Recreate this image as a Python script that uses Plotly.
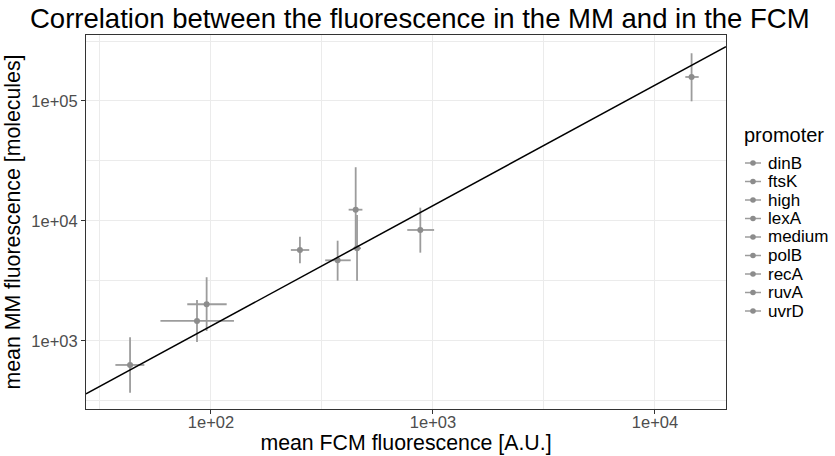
import numpy as np
import plotly.graph_objects as go

# Promoter-level summary: mean with lower/upper range for each channel
promoters = ["dinB", "ftsK", "high", "lexA", "medium", "polB", "recA", "ruvA", "uvrD"]
fcm_mean = [372, 95.6, 14620, 448.6, 877, 43.2, 251.6, 455, 86.5]
fcm_low = [327, 78.2, 13700, 417, 766, 37.1, 229, 437, 59.2]
fcm_high = [426, 117.7, 15740, 481, 1012, 50.1, 277, 474, 126.9]
mm_mean = [4701, 2023, 158500, 12420, 8414, 631, 5730, 5925, 1468]
mm_low = [3183, 1212, 99400, 5935, 5445, 370, 4440, 3183, 981]
mm_high = [6850, 3398, 250000, 28050, 12910, 1074, 7390, 11220, 2197]

# Fitted relation in log10 space: log10(MM) = intercept + slope * log10(FCM)
fit_slope = 1.004
fit_intercept = 1.116

x_tick_vals = [100, 1000, 10000]
x_tick_text = ["1e+02", "1e+03", "1e+04"]
y_tick_vals = [1000, 10000, 100000]
y_tick_text = ["1e+03", "1e+04", "1e+05"]

x_range = [1.437, 4.320]
y_range = [2.433, 5.55]

W, H = 835, 456
M_L, M_R, M_T, M_B = 86, 109, 35, 47
PLOT_W = W - M_L - M_R
PLOT_H = H - M_T - M_B

point_color = "#8c8c8c"
bar_color = "#9c9c9c"
font_family = "Liberation Sans, Arial, sans-serif"

fig = go.Figure()

for i, name in enumerate(promoters):
    fig.add_trace(go.Scatter(
        x=[fcm_mean[i]], y=[mm_mean[i]],
        mode="markers",
        name=name,
        showlegend=False,
        marker=dict(color=point_color, size=6),
        error_x=dict(type="data", symmetric=False,
                     array=[fcm_high[i] - fcm_mean[i]],
                     arrayminus=[fcm_mean[i] - fcm_low[i]],
                     width=0, thickness=1.8, color=bar_color),
        error_y=dict(type="data", symmetric=False,
                     array=[mm_high[i] - mm_mean[i]],
                     arrayminus=[mm_mean[i] - mm_low[i]],
                     width=0, thickness=1.8, color=bar_color),
    ))

# Regression line across the full x range
fit_x = 10 ** np.array(x_range)
fit_y = 10 ** (fit_intercept + fit_slope * np.log10(fit_x))
fig.add_trace(go.Scatter(
    x=fit_x, y=fit_y, mode="lines",
    line=dict(color="black", width=1.5),
    showlegend=False, hoverinfo="skip",
))

axis_common = dict(
    type="log",
    automargin=False,
    showgrid=True, gridcolor="#ebebeb", gridwidth=1.2,
    showline=True, linecolor="#333333", linewidth=1, mirror=True,
    ticks="outside", ticklen=4, tickcolor="#333333", tickwidth=1,
    tickfont=dict(family=font_family, size=16.5, color="#4d4d4d"),
    zeroline=False,
)

fig.update_xaxes(
    **axis_common,
    range=x_range,
    ticklabelstandoff=-6,
    tickmode="array", tickvals=x_tick_vals, ticktext=x_tick_text,
    minor=dict(tickmode="array", tickvals=[10 ** 1.5, 10 ** 2.5, 10 ** 3.5],
               showgrid=True, gridcolor="#ebebeb", gridwidth=0.6, ticks=""),
    title=dict(text="mean FCM fluorescence [A.U.]",
               font=dict(family=font_family, size=21.3, color="black"), standoff=2),
)
fig.update_yaxes(
    **axis_common,
    range=y_range,
    tickmode="array", tickvals=y_tick_vals, ticktext=y_tick_text,
    minor=dict(tickmode="array", tickvals=[10 ** 2.5, 10 ** 3.5, 10 ** 4.5, 10 ** 5.5],
               showgrid=True, gridcolor="#ebebeb", gridwidth=0.6, ticks=""),
    title=dict(text="mean MM fluorescence [molecules]",
               font=dict(family=font_family, size=21.3, color="black"), standoff=4),
)


# Legend drawn as a key column: grey point-range glyph + promoter label
def px_to_paper_x(px):
    return (px - M_L) / PLOT_W


def px_to_paper_y(py):
    return (H - M_B - py) / PLOT_H


legend_left = 745
legend_title_y = 135
legend_first_y = 163
legend_step = 18.5
glyph_len = 16
text_left = 766

annotations = [dict(
    text="promoter", showarrow=False,
    xref="paper", yref="paper",
    x=px_to_paper_x(legend_left - 3), y=px_to_paper_y(legend_title_y),
    xanchor="left", yanchor="middle",
    font=dict(family=font_family, size=20, color="black"),
)]
shapes = []
for i, name in enumerate(promoters):
    yy = px_to_paper_y(legend_first_y + i * legend_step)
    annotations.append(dict(
        text=name, showarrow=False,
        xref="paper", yref="paper",
        x=px_to_paper_x(text_left), y=yy,
        xanchor="left", yanchor="middle",
        font=dict(family=font_family, size=17, color="black"),
    ))
    shapes.append(dict(
        type="line", xref="paper", yref="paper",
        x0=px_to_paper_x(legend_left), x1=px_to_paper_x(legend_left + glyph_len),
        y0=yy, y1=yy,
        line=dict(color=bar_color, width=1.5),
    ))
    shapes.append(dict(
        type="circle", xref="paper", yref="paper",
        xsizemode="pixel", ysizemode="pixel",
        xanchor=px_to_paper_x(legend_left + glyph_len / 2), yanchor=yy,
        x0=-2.8, x1=2.8, y0=-2.8, y1=2.8,
        fillcolor=point_color, line=dict(width=0),
    ))

fig.update_layout(
    width=W, height=H,
    margin=dict(l=M_L, r=M_R, t=M_T, b=M_B, autoexpand=False),
    paper_bgcolor="white", plot_bgcolor="white",
    font=dict(family=font_family),
    showlegend=False,
    title=dict(text="Correlation between the fluorescence in the MM and in the FCM",
               font=dict(family=font_family, size=27.5, color="black"),
               xref="container", x=30 / W, xanchor="left",
               yref="container", y=1 - 18 / H, yanchor="middle"),
    annotations=annotations,
    shapes=shapes,
)

fig.write_html("out.html")
